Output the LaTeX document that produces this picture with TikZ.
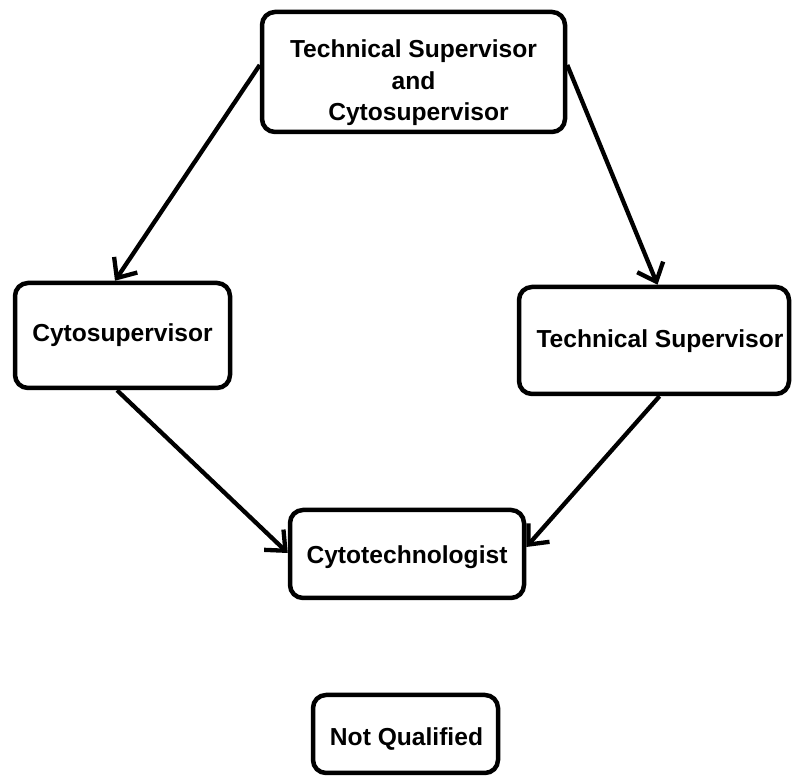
\documentclass[tikz,border=0pt]{standalone}
\usepackage{fontspec}
\setmainfont{Liberation Sans}
\usetikzlibrary{arrows.meta,calc}
\newcommand{\mvtext}[3]{\raisebox{#2}[\height][\depth]{\hspace*{#1}#3}}
\begin{document}
\begin{tikzpicture}[x=1pt,y=1pt,
  box/.style={draw,line width=4.5pt,rounded corners=13pt,inner sep=0pt,align=center,
    font=\fontsize{24.6}{31.5}\selectfont\bfseries},
  conn/.style={line width=4.3pt,-{Straight Barb[length=16pt,width=28pt,line width=4.3pt]}}]
\useasboundingbox (0,0) rectangle (792,778);
\node[box,minimum width=303pt,minimum height=120pt] (top) at (413.5,706)
  {\mvtext{0pt}{-11pt}{\begin{tabular}{@{}c@{}}Technical Supervisor\\and\\\hspace*{10pt}Cytosupervisor\end{tabular}}};
\node[box,minimum width=215pt,minimum height=105pt] (cs) at (122.5,442.5) {Cytosupervisor};
\node[box,minimum width=270pt,minimum height=107pt] (ts) at (654,437.5) {\mvtext{12pt}{-1pt}{Technical Supervisor}};
\node[box,minimum width=234pt,minimum height=88pt] (ct) at (407,224) {\mvtext{0pt}{-3pt}{Cytotechnologist}};
\node[box,minimum width=185pt,minimum height=78pt] (nq) at (405.5,44) {\mvtext{2pt}{-5pt}{Not Qualified}};
\draw[conn] ([yshift=7pt]top.west) -- ([xshift=-7.5pt]cs.north);
\draw[conn] ([yshift=7pt]top.east) -- ([xshift=3.5pt]ts.north);
\draw[conn] ([xshift=-5.5pt]cs.south) -- ([yshift=1pt]ct.west);
\draw[conn] ([xshift=5.5pt]ts.south) -- ([yshift=7pt]ct.east);
\end{tikzpicture}
\end{document}
